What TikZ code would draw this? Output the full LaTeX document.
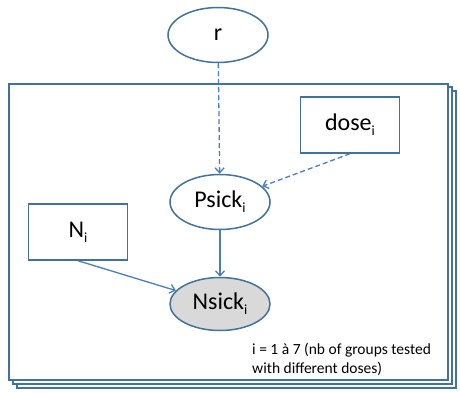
\documentclass[tikz,border=0pt]{standalone}
\usepackage{fontspec}
\setmainfont{Carlito}
\usetikzlibrary{arrows.meta,shapes.geometric}
\definecolor{outl}{HTML}{41719C}
\definecolor{arr}{HTML}{4A7EBB}
\definecolor{obs}{HTML}{D9D9D9}
\newcommand\mysubi{\raisebox{-5pt}{\fontsize{14}{14}\selectfont i}}
\tikzset{
  plate/.style={draw=outl,line width=1.5pt,fill=white},
  varell/.style={ellipse,draw=outl,line width=1.5pt,fill=white,minimum width=100pt,minimum height=55pt,inner sep=0pt,font=\fontsize{24}{28}\selectfont},
  varbox/.style={rectangle,draw=outl,line width=1.5pt,fill=white,minimum width=99pt,minimum height=56pt,inner sep=0pt,font=\fontsize{24}{28}\selectfont},
  link/.style={draw=arr,line width=1.3pt,-{Straight Barb[length=5pt,width=9pt]}},
  dlink/.style={link,dash pattern=on 5pt off 3pt},
}
\begin{document}
\begin{tikzpicture}[x=1pt,y=-1pt]
\useasboundingbox (0,0) rectangle (460,393);
\draw[plate] (17,91) rectangle (456,388);
\draw[plate] (13,87) rectangle (452,384);
\draw[plate] (9,84) rectangle (448,380);
\node[varell] (r) at (218,35) {r};
\node[varbox] (dose) at (350,125) {dose\mysubi};
\node[varell] (psick) at (220,202) {Psick\mysubi};
\node[varbox] (n) at (78,232) {N\mysubi};
\node[varell,fill=obs,minimum height=53pt] (nsick) at (220,304) {Nsick\mysubi};
\node[anchor=north west,align=left,inner sep=0pt,font=\fontsize{15.5}{18.5}\selectfont] (lbl) at (252,343) {i = 1 à 7 (nb of groups tested\\with different doses)};
\draw[dlink] (r) -- (psick);
\draw[dlink] (dose.south) -- (psick);
\draw[link] (psick) -- (nsick);
\draw[link] (n.south) -- (nsick);
\end{tikzpicture}
\end{document}
